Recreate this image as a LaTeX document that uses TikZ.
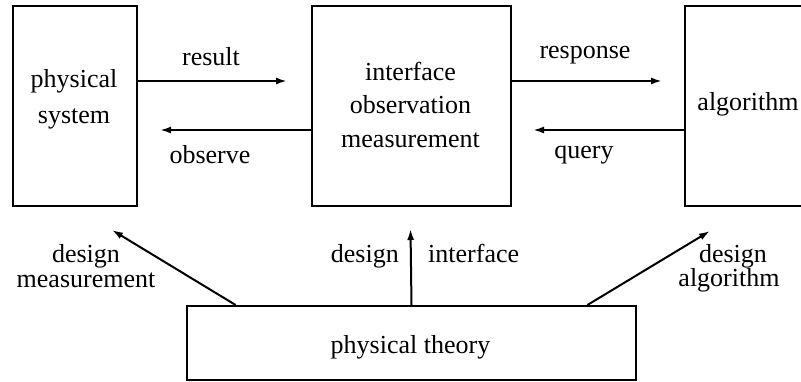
\documentclass[tikz,border=0pt]{standalone}
\usepackage{fontspec}
\setmainfont{Liberation Serif}
\usetikzlibrary{arrows.meta,calc}
\tikzset{
  box/.style={draw, line width=2pt, inner sep=0pt, anchor=north west},
  arr/.style={line width=2pt, -{Latex[length=11pt,width=7pt]}},
  txt/.style={inner sep=0pt, anchor=base, font=\fontsize{26}{30}\selectfont},
}
\begin{document}
\begin{tikzpicture}[x=1pt,y=-1pt]
\useasboundingbox (0,0) rectangle (801,381);
% boxes
\node[box, minimum width=124pt, minimum height=200pt] (ps) at (12,5) {};
\node[box, minimum width=199pt, minimum height=200pt] (ifc) at (311,5) {};
\node[box, minimum width=128pt, minimum height=200pt] (alg) at (684,5) {};
\node[box, minimum width=449pt, minimum height=74pt] (pt) at (186,305) {};
% box texts
\node[txt] (ps1) at (74,87) {physical};
\node[txt] (ps2) at (74,123) {system};
\node[txt] (if1) at (410.5,80) {interface};
\node[txt] (if2) at (410.5,113) {observation};
\node[txt] (if3) at (410.5,147) {measurement};
\node[txt] (al1) at (748,110) {algorithm};
\node[txt] (pt1) at (410.5,353) {physical theory};
% horizontal arrows
\coordinate (r1) at (287,81);
\coordinate (o1) at (160,130);
\coordinate (r2) at (662,81);
\coordinate (q1) at (533,130);
\draw[arr] (ps.east |- r1) -- (r1);
\draw[arr] (ifc.west |- o1) -- (o1);
\draw[arr] (ifc.east |- r2) -- (r2);
\draw[arr] (alg.west |- q1) -- (q1);
\node[txt] (lres) at (211,65) {result};
\node[txt] (lobs) at (210,163) {observe};
\node[txt] (lrsp) at (585,58) {response};
\node[txt] (lqry) at (584,158) {query};
% design arrows
\coordinate (d1) at (112,230);
\coordinate (d2) at (410.5,229);
\coordinate (d3) at (710,231);
\draw[arr] ($(pt.north west)!0.11!(pt.north east)$) -- (d1);
\draw[arr] (pt.north) -- (d2);
\draw[arr] ($(pt.north west)!0.89!(pt.north east)$) -- (d3);
\node[txt] (dm1) at (86,262) {design};
\node[txt] (dm2) at (86,287) {measurement};
\node[txt, anchor=base east] (di1) at (399,262) {design};
\node[txt, anchor=base west] (di2) at (428,262) {interface};
\node[txt] (da1) at (733,262) {design};
\node[txt] (da2) at (729,286) {algorithm};
\end{tikzpicture}
\end{document}
